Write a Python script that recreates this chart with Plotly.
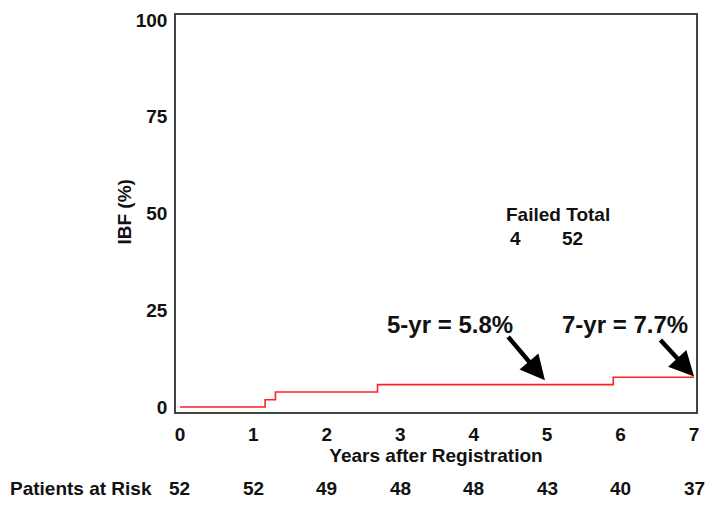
import plotly.graph_objects as go

# Data
step_times = [0, 1.16, 1.30, 2.69, 5.90, 7.0]
ibf_values = [0, 1.9, 3.9, 5.8, 7.7, 7.7]
x_ticks = [0, 1, 2, 3, 4, 5, 6, 7]
y_ticks = [0, 25, 50, 75, 100]
at_risk_years = [0, 1, 2, 3, 4, 5, 6, 7]
at_risk_counts = [52, 52, 49, 48, 48, 43, 40, 37]
failed = 4
total = 52

FONT = "Liberation Sans, Arial, sans-serif"

fig = go.Figure()
fig.add_trace(go.Scatter(
    x=step_times, y=ibf_values, mode="lines", line_shape="hv",
    line=dict(color="#ff2020", width=1.6), showlegend=False, hoverinfo="skip"))

annotations = []
# estimate labels
annotations.append(dict(x=3.68, y=21.4, xref="x", yref="y", text="<b>5-yr = 5.8%</b>",
                        showarrow=False, font=dict(size=24, color="#111", family=FONT)))
annotations.append(dict(x=6.06, y=21.4, xref="x", yref="y", text="<b>7-yr = 7.7%</b>",
                        showarrow=False, font=dict(size=24, color="#111", family=FONT)))
# arrows
annotations.append(dict(x=4.97, y=6.9, xref="x", yref="y", text="", showarrow=True,
                        ax=-38, ay=-45, arrowhead=2, arrowsize=1.1, arrowwidth=4.5,
                        arrowcolor="#000"))
annotations.append(dict(x=7.0, y=7.9, xref="x", yref="y", text="", showarrow=True,
                        ax=-35, ay=-38, arrowhead=2, arrowsize=1.1, arrowwidth=4.5,
                        arrowcolor="#000"))
# failed / total
annotations.append(dict(x=5.15, y=49.7, xref="x", yref="y", text="<b>Failed Total</b>",
                        showarrow=False, font=dict(size=19, color="#111", family=FONT)))
annotations.append(dict(x=4.57, y=43.6, xref="x", yref="y", text=f"<b>{failed}</b>",
                        showarrow=False, font=dict(size=19, color="#111", family=FONT)))
annotations.append(dict(x=5.34, y=43.6, xref="x", yref="y", text=f"<b>{total}</b>",
                        showarrow=False, font=dict(size=19, color="#111", family=FONT)))
# y-axis title
annotations.append(dict(x=0, y=(412 - 210) / 402, xref="paper", yref="paper", text="<b>IBF (%)</b>",
                        showarrow=False, textangle=-90, xanchor="center", yanchor="middle",
                        xshift=-51, font=dict(size=19, color="#111", family=FONT)))
# patients at risk
ry = (412 - 489) / 402
annotations.append(dict(x=0.0, y=ry, xref="paper", yref="paper", text="<b>Patients at Risk</b>",
                        showarrow=False, xanchor="left", yanchor="middle",
                        font=dict(size=19, color="#111", family=FONT), xshift=-168))
for yr, n in zip(at_risk_years, at_risk_counts):
    annotations.append(dict(x=yr, y=ry, xref="x", yref="paper", text=f"<b>{n}</b>",
                            showarrow=False, yanchor="middle",
                            font=dict(size=19, color="#111", family=FONT)))

fig.update_layout(
    width=712, height=505,
    margin=dict(l=176, r=16, t=10, b=93),
    plot_bgcolor="white", paper_bgcolor="white",
    font=dict(family=FONT, size=19, color="#111"),
    annotations=annotations,
    xaxis=dict(range=[-0.054, 7.027], tickvals=x_ticks, ticktext=[f"<b>{t}</b>" for t in x_ticks],
               showgrid=False, zeroline=False, showline=True, linecolor="#444", linewidth=1.5,
               mirror=True, ticks="", ticklabelstandoff=4,
               title=dict(text="<b>Years after Registration</b>", standoff=2,
                          font=dict(size=19, family=FONT, color="#111"))),
    yaxis=dict(range=[-1.28, 101.28], tickvals=y_ticks, ticktext=[f"<b>{t}</b>" for t in y_ticks],
               showgrid=False, zeroline=False, showline=True, linecolor="#444", linewidth=1.5,
               mirror=True, ticks="", ticklabelstandoff=3),
)

fig.write_html("out.html", config={"displayModeBar": False},
               post_script="document.body.style.margin='0';document.body.style.overflow='hidden';")
